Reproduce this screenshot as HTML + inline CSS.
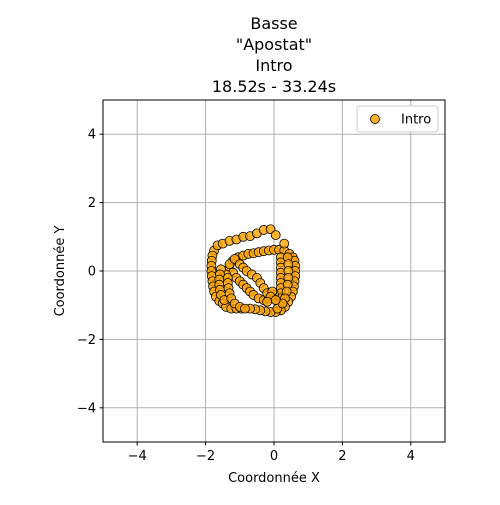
<!DOCTYPE html>
<html><head><meta charset="utf-8"><style>body{margin:0;background:#fff}svg{font-family:"DejaVu Sans","Liberation Sans",sans-serif}</style></head>
<body>
<svg id="chart" width="500" height="500" viewBox="0 0 500 500" xmlns="http://www.w3.org/2000/svg">
<rect width="500" height="500" fill="#fff"/>
<g font-size="16" text-anchor="middle" fill="#000">
<text x="274" y="29">Basse</text><text x="274" y="50">"Apostat"</text><text x="274" y="71">Intro</text><text x="274" y="92">18.52s - 33.24s</text>
</g>
<g id="grid"></g>
<g id="ticks"></g>
<g id="points"></g>
<rect x="103" y="100" width="342" height="342" fill="none" stroke="#000" stroke-width="1"/>
<text x="274" y="482" font-size="13" text-anchor="middle">Coordonnée X</text>
<text transform="translate(64,271) rotate(-90)" font-size="13" text-anchor="middle">Coordonnée Y</text>
<g>
<rect x="357" y="106" width="81" height="26" rx="3" fill="#fff" stroke="#ccc"/>
<circle cx="375" cy="119" r="4.5" fill="#FFA500" fill-opacity="0.85" stroke="#000" stroke-width="0.8"/>
<text x="401" y="123.5" font-size="13">Intro</text>
</g>
</svg>
<script>
const xTicks=[-4,-2,0,2,4];
const yTicks=[-4,-2,0,2,4];
const xs=[-1.75,-1.65,-1.5,-1.3,-1.1,-0.9,-0.7,-0.5,-0.3,-0.1,0.05,
-1.8,-1.82,-1.83,-1.83,-1.82,-1.8,-1.78,-1.75,-1.7,-1.6,-1.5,-1.4,-1.25,-1.1,-0.95,
-1.2,-1.05,-0.9,-0.75,-0.6,-0.45,-0.3,-0.15,0,0.15,0.3,0.45,0.55,
0.6,0.62,0.62,0.62,0.6,0.58,0.55,0.5,0.42,0.32,0.2,0.05,-0.1,-0.25,-0.4,-0.55,
0.2,0.2,0.2,0.2,0.2,0.2,0.2,0.2,0.18,0.15,0.1,
0.4,0.42,0.42,0.42,0.4,0.37,0.32,0.25,
-1.3,-1.2,-1.1,-1.0,-0.9,-0.8,-0.7,-0.6,-0.45,-0.3,-0.15,0,
-1.4,-1.3,-1.15,-1.0,-0.9,-0.8,-0.65,-0.5,-0.4,-0.3,-0.2,
-1.55,-1.58,-1.6,-1.6,-1.58,-1.55,-1.45,
-1.35,-1.35,-1.33,-1.3,-1.25,-1.15,-1.0,
0.3,-0.05,-0.1,0.05,-0.2,-0.7,-0.85];
const ys=[0.6,0.75,0.8,0.88,0.92,1.0,1.02,1.1,1.2,1.22,1.05,
0.45,0.3,0.15,0,-0.15,-0.3,-0.45,-0.6,-0.75,-0.88,-0.95,-1.05,-1.1,-1.1,-1.1,
0.3,0.4,0.45,0.5,0.52,0.55,0.58,0.6,0.62,0.62,0.6,0.5,0.4,
0.3,0.15,0,-0.15,-0.3,-0.45,-0.6,-0.75,-0.9,-1.05,-1.15,-1.2,-1.2,-1.18,-1.15,-1.12,
0.4,0.25,0.1,-0.05,-0.2,-0.35,-0.5,-0.65,-0.8,-0.95,-1.1,
0.4,0.2,0.0,-0.2,-0.4,-0.6,-0.8,-0.95,
0.1,-0.05,-0.2,-0.3,-0.4,-0.5,-0.6,-0.7,-0.8,-0.85,-0.8,-0.7,
-0.1,0.2,0.35,0.2,0.1,0.0,-0.1,-0.2,-0.35,-0.5,-0.65,
0.05,-0.1,-0.25,-0.4,-0.55,-0.7,-0.85,
-0.2,-0.35,-0.5,-0.65,-0.8,-0.95,-1.05,
0.8,-0.6,-0.75,-0.85,-0.9,-1.1,-1.1];
const NS="http://www.w3.org/2000/svg";
const sx=v=>274+v*34.2, sy=v=>271-v*34.2;
const grid=document.getElementById('grid'),ticks=document.getElementById('ticks'),pts=document.getElementById('points');
function mk(tag,attrs,parent){const e=document.createElementNS(NS,tag);for(const k in attrs)e.setAttribute(k,attrs[k]);parent.appendChild(e);return e;}
xTicks.forEach(t=>{
 const l=mk('line',{x1:sx(t),x2:sx(t),y1:100,y2:442,stroke:'#b0b0b0','stroke-width':1},grid);
 
 
 mk('line',{x1:sx(t),x2:sx(t),y1:442,y2:445.5,stroke:'#000'},ticks);
 const tx=mk('text',{x:sx(t),y:460,'font-size':13,'text-anchor':'middle'},ticks);
 tx.textContent=t<0?'\u2212'+(-t):t;
 
 
});
yTicks.forEach(t=>{
 const l=mk('line',{x1:103,x2:445,y1:sy(t),y2:sy(t),stroke:'#b0b0b0','stroke-width':1},grid);
 
 
 mk('line',{x1:99.5,x2:103,y1:sy(t),y2:sy(t),stroke:'#000'},ticks);
 const tx=mk('text',{x:96,y:sy(t)+4.5,'font-size':13,'text-anchor':'end'},ticks);
 tx.textContent=t<0?'\u2212'+(-t):t;
 
 
});
xs.forEach((x,i)=>{
 const c=mk('circle',{cx:sx(x),cy:sy(ys[i]),r:4.5,fill:'#FFA500','fill-opacity':0.8,stroke:'#000','stroke-width':0.8},pts);
 
 
});
</script>
</body></html>
